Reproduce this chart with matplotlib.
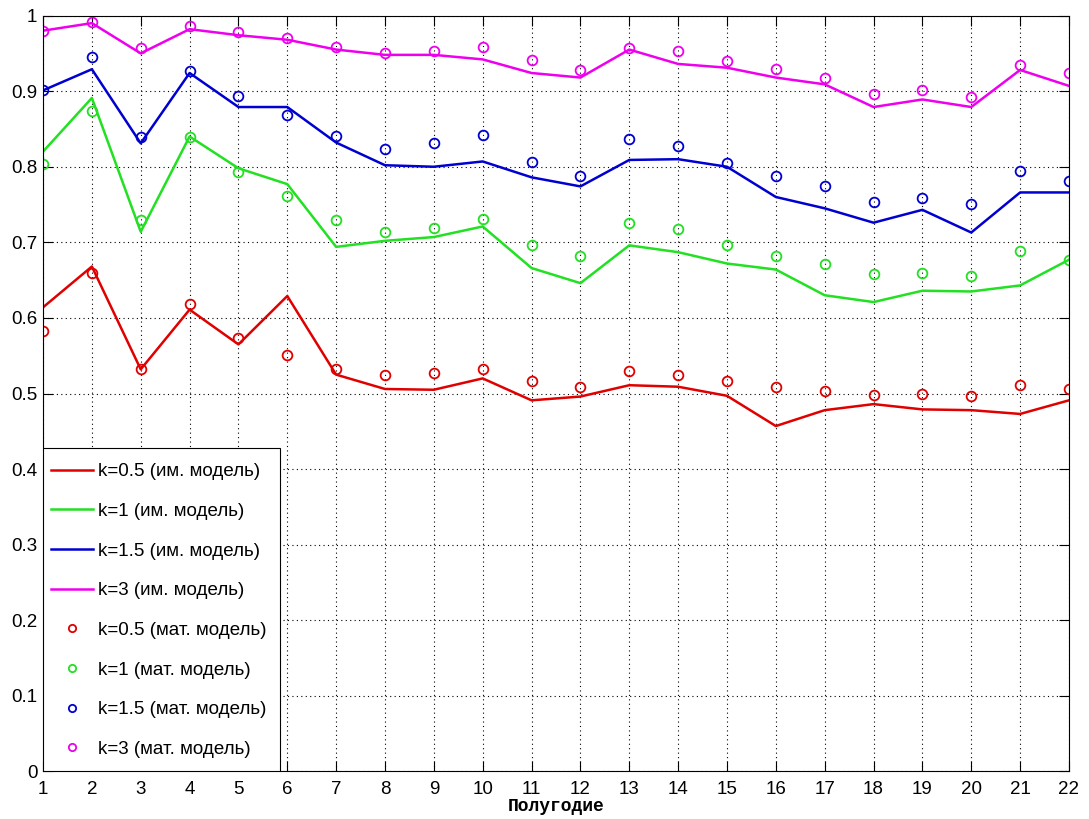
import numpy as np
import matplotlib
matplotlib.use('Agg')
import matplotlib.pyplot as plt
from matplotlib.patches import Rectangle

# полугодия
x = np.arange(1, 23)

# имитационная модель (линии)
im_k05 = [0.614, 0.668, 0.532, 0.611, 0.565, 0.629, 0.525, 0.506, 0.505, 0.520, 0.491,
          0.496, 0.511, 0.509, 0.497, 0.457, 0.478, 0.486, 0.479, 0.478, 0.473, 0.491]
im_k1 = [0.820, 0.891, 0.714, 0.840, 0.798, 0.777, 0.694, 0.702, 0.707, 0.721, 0.666,
         0.646, 0.696, 0.687, 0.672, 0.664, 0.630, 0.621, 0.636, 0.635, 0.643, 0.677]
im_k15 = [0.901, 0.929, 0.831, 0.924, 0.879, 0.879, 0.832, 0.802, 0.800, 0.807, 0.786,
          0.774, 0.809, 0.810, 0.800, 0.760, 0.745, 0.726, 0.743, 0.713, 0.766, 0.766]
im_k3 = [0.980, 0.990, 0.950, 0.982, 0.974, 0.968, 0.955, 0.948, 0.948, 0.942, 0.924,
         0.918, 0.955, 0.936, 0.931, 0.918, 0.909, 0.879, 0.889, 0.879, 0.928, 0.907]

# математическая модель (кружки)
mat_k05 = [0.583, 0.660, 0.532, 0.618, 0.574, 0.551, 0.532, 0.524, 0.527, 0.533, 0.516,
           0.508, 0.530, 0.525, 0.516, 0.509, 0.503, 0.498, 0.499, 0.497, 0.511, 0.506]
mat_k1 = [0.804, 0.874, 0.729, 0.839, 0.793, 0.761, 0.729, 0.714, 0.719, 0.731, 0.697,
          0.682, 0.726, 0.718, 0.696, 0.682, 0.671, 0.658, 0.660, 0.655, 0.688, 0.677]
mat_k15 = [0.901, 0.945, 0.839, 0.927, 0.894, 0.869, 0.841, 0.824, 0.831, 0.842, 0.806,
           0.788, 0.837, 0.828, 0.805, 0.788, 0.774, 0.753, 0.758, 0.751, 0.795, 0.781]
mat_k3 = [0.980, 0.992, 0.957, 0.986, 0.978, 0.970, 0.959, 0.951, 0.953, 0.959, 0.941,
          0.928, 0.957, 0.953, 0.940, 0.929, 0.917, 0.896, 0.902, 0.892, 0.934, 0.924]

labels = ['0.5', '1', '1.5', '3']
colors = ['#e00000', '#22e022', '#0000d0', '#ee00ee']

plt.rcParams['font.family'] = ['Liberation Sans', 'DejaVu Sans']

fig = plt.figure(figsize=(10.89, 8.19), dpi=100)
ax = fig.add_axes([0.0395, 0.058, 0.9421, 0.923])

for y, c, k in zip([im_k05, im_k1, im_k15, im_k3], colors, labels):
    ax.plot(x, y, '-', color=c, lw=1.8, label='k=%s (им. модель)' % k)
for y, c, k in zip([mat_k05, mat_k1, mat_k15, mat_k3], colors, labels):
    ax.plot(x, y, 'o', color=c, mfc='none', ms=7, mew=1.3, ls='none',
            label='k=%s (мат. модель)' % k)

ax.set_xlim(1, 22)
ax.set_ylim(0, 1)
ax.set_xticks(x)
ax.set_yticks(np.arange(0, 1.01, 0.1))
ax.set_yticklabels(['0', '0.1', '0.2', '0.3', '0.4', '0.5', '0.6', '0.7', '0.8', '0.9', '1'])
ax.tick_params(direction='in', top=True, right=True, labelsize=13.5, length=7)
ax.tick_params(axis='x', pad=7)
ax.tick_params(axis='y', pad=4)
ax.grid(True, ls=(0, (1, 3)), color='black', lw=0.8)
for s in ax.spines.values():
    s.set_linewidth(0.8)

ax.set_xlabel('Полугодие', family='Liberation Mono', fontweight='bold', fontsize=13, labelpad=0)

# рамка легенды рисуется отдельно (отступы как в MATLAB)
ax.add_patch(Rectangle((0, 0), 0.231, 0.428, transform=ax.transAxes, facecolor='white',
                       edgecolor='black', lw=0.8, zorder=4.5))
leg = ax.legend(loc='lower left', fontsize=13.5, borderaxespad=0, labelspacing=1.2,
                handlelength=2.2, handletextpad=0.27, borderpad=0.45, frameon=False,
                markerscale=0.75, bbox_to_anchor=(0, 0.007))

plt.savefig('out.png')
